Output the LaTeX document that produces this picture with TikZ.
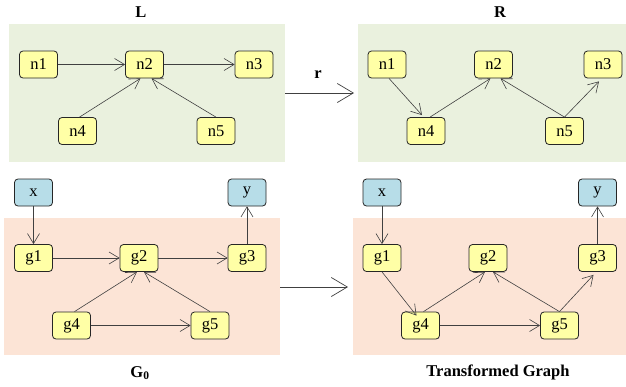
\documentclass[tikz,border=0pt]{standalone}
\usepackage{fontspec}
\setmainfont{Liberation Serif}
\usetikzlibrary{arrows.meta}
\definecolor{nodey}{HTML}{FFFFA6}
\definecolor{nodeb}{HTML}{B7DDE8}
\definecolor{pgreen}{HTML}{EAF1DE}
\definecolor{porange}{HTML}{FCE4D6}
\definecolor{edgec}{HTML}{404040}
\tikzset{
  gnode/.style={draw=black!85, line width=0.8pt, rounded corners=3.5pt, fill=nodey, minimum width=38pt, minimum height=27pt, inner sep=0pt, font=\fontsize{16.5}{18}\selectfont},
  bnode/.style={gnode, fill=nodeb},
  edge/.style={draw=edgec, line width=0.6pt, -{Straight Barb[length=10pt,width=12pt,line width=0.6pt]}},
  bigedge/.style={draw=edgec, line width=0.7pt, -{Straight Barb[length=16pt,width=19pt,line width=0.7pt]}},
  title/.style={font=\fontsize{16.5}{18}\selectfont\bfseries},
  panelg/.style={fill=pgreen, draw=none},
  panelo/.style={fill=porange, draw=none}
}
\begin{document}
\begin{tikzpicture}[x=1pt,y=-1pt]
\useasboundingbox (0,0) rectangle (626,386);
% panels
\fill[panelg] (9,24) rectangle (285,162);
\fill[panelg] (358,24) rectangle (626,162);
\fill[panelo] (4,218) rectangle (280,355);
\fill[panelo] (353,218) rectangle (626,355);
% titles
\node[title] (tL) at (141,12) {L};
\node[title] (tR) at (500,12) {R};
\node[title] (tG) at (140,373) {G$_\mathbf{0}$};
\node[title] (tT) at (498,372) {Transformed Graph};
% big arrows
\coordinate (a1s) at (285,93);
\coordinate (a1e) at (354,93);
\draw[bigedge] (a1s) -- (a1e);
\node[title] (r) at (318,75) {r};
\coordinate (a2s) at (280,287);
\coordinate (a2e) at (348,287);
\draw[bigedge] (a2s) -- (a2e);
% L graph
\node[gnode] (Ln1) at (38.5,64.5) {n1};
\node[gnode] (Ln2) at (144.5,64.5) {n2};
\node[gnode] (Ln3) at (254,64.5) {n3};
\node[gnode] (Ln4) at (77.5,131) {n4};
\node[gnode] (Ln5) at (216,131) {n5};
\draw[edge] (Ln1) -- (Ln2);
\draw[edge] (Ln2) -- (Ln3);
\draw[edge] ([xshift=2pt]Ln4.north) -- ([xshift=-4pt]Ln2.south);
\draw[edge] (Ln5.north) -- ([xshift=7pt]Ln2.south);
% R graph
\node[gnode] (Rn1) at (387,64.5) {n1};
\node[gnode] (Rn2) at (493.5,64.5) {n2};
\node[gnode] (Rn3) at (603,64.5) {n3};
\node[gnode] (Rn4) at (426,131) {n4};
\node[gnode] (Rn5) at (564.5,131) {n5};
\draw[edge] ([xshift=2pt]Rn1.south) -- ([xshift=-4pt,yshift=2pt]Rn4.north);
\draw[edge] ([xshift=4pt]Rn4.north) -- ([xshift=-3pt]Rn2.south);
\draw[edge] (Rn5.north) -- ([xshift=7pt]Rn2.south);
\draw[edge] (Rn5.north) -- ([xshift=-4pt,yshift=-3pt]Rn3.south);
% G0
\node[bnode] (Gx) at (33.5,192.5) {x};
\node[bnode] (Gy) at (247,192.5) {y};
\node[gnode] (Gg1) at (33.5,258) {g1};
\node[gnode] (Gg2) at (139,258) {g2};
\node[gnode] (Gg3) at (247,258) {g3};
\node[gnode] (Gg4) at (71.5,325.5) {g4};
\node[gnode] (Gg5) at (210,325.5) {g5};
\draw[edge] (Gx) -- (Gg1);
\draw[edge] (Gg1) -- (Gg2);
\draw[edge] (Gg2) -- (Gg3);
\draw[edge] (Gg3) -- (Gy);
\draw[edge] ([xshift=3pt]Gg4.north) -- ([xshift=-2pt]Gg2.south);
\draw[edge] (Gg5.north) -- ([xshift=5pt]Gg2.south);
\draw[edge] (Gg4) -- (Gg5);
% Transformed
\node[bnode] (Tx) at (382,192.5) {x};
\node[bnode] (Ty) at (597.5,192.5) {y};
\node[gnode] (Tg1) at (382,258) {g1};
\node[gnode] (Tg2) at (488,258) {g2};
\node[gnode] (Tg3) at (597.5,258) {g3};
\node[gnode] (Tg4) at (420.5,325.5) {g4};
\node[gnode] (Tg5) at (559.5,325.5) {g5};
\draw[edge] (Tx) -- (Tg1);
\draw[edge] (Tg1.south) -- ([xshift=-4pt,yshift=-4pt]Tg4.north);
\draw[edge] ([xshift=3pt]Tg4.north) -- ([xshift=-3pt]Tg2.south);
\draw[edge] (Tg5.north) -- ([xshift=5pt]Tg2.south);
\draw[edge] (Tg5.north) -- ([xshift=-4pt,yshift=-3pt]Tg3.south);
\draw[edge] (Tg4) -- (Tg5);
\draw[edge] (Tg3) -- (Ty);
\end{tikzpicture}
\end{document}
